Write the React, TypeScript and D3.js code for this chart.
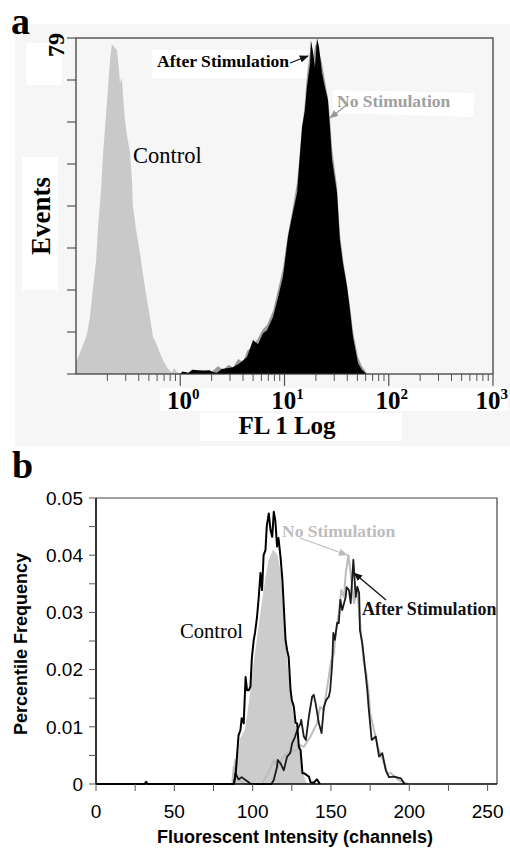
import React, { useEffect, useRef } from 'react';
import * as d3 from 'd3';

// ---- panel a : FL1 log histograms  [FL value, events]
const controlA: [number, number][] = [
  [0.1, 2.8], [0.104, 3.8], [0.117, 6.8], [0.128, 9.6], [0.136, 13.4], [0.146, 20.5], [0.156, 26.8],
  [0.163, 34.6], [0.174, 43.3], [0.182, 52], [0.194, 60.9], [0.203, 67.5], [0.212, 73.8], [0.221, 77.6],
  [0.232, 76.9], [0.247, 76.2], [0.258, 71.5], [0.264, 68.4], [0.276, 69.6], [0.282, 65.6], [0.295, 59.7],
  [0.308, 56.2], [0.33, 52], [0.344, 45.6], [0.352, 39.3], [0.377, 33.9], [0.411, 28.4], [0.44, 23.3],
  [0.48, 17.4], [0.513, 13.2], [0.548, 8.7], [0.598, 6.8], [0.64, 4.9], [0.698, 2.8], [0.746, 1.6],
  [0.798, 0.7], [0.83, 0.3], [0.87, 1.4], [0.92, 0.6], [0.98, 0.2], [1.02, 0]
];

const noStimA: [number, number][] = [
  [1.9, 0], [2.0, 0.5], [2.3, 1.8], [2.6, 1.0], [2.9, 2.2], [3.2, 1.5], [3.6, 3.5], [4.0, 2.8], [4.4, 5.5],
  [5.0, 6.5], [5.6, 8.5], [6.2, 10.5], [6.8, 11.5], [7.8, 15], [8.7, 20], [9.7, 25], [10.8, 33], [11.8, 38],
  [13.2, 45], [14.7, 57], [15.7, 64], [16.4, 70], [17.6, 76], [18.2, 78], [18.7, 74], [19.6, 77], [20.5, 78],
  [21.4, 76], [22.9, 73], [24.4, 69], [26.1, 65], [27.3, 60], [28.6, 53], [31.9, 44], [34.0, 33], [36.4, 27],
  [39.8, 21], [42.5, 16], [45.4, 10], [50.7, 4], [55.3, 1.8], [59.2, 0.8], [62, 0]
];

const afterStimA: [number, number][] = [
  [1.0, 0], [1.05, 0.6], [1.2, 0.3], [1.3, 1.0], [1.5, 0.9], [1.7, 0.8], [1.9, 0.9], [2.1, 0.4], [2.25, 0.3],
  [2.51, 1.2], [2.87, 1.4], [3.21, 1.6], [3.74, 2.6], [4.37, 4], [4.99, 8], [5.57, 7], [6.22, 9.6], [6.79, 10.3],
  [7.76, 13.4], [8.67, 18], [9.68, 22.9], [10.8, 32.2], [11.8, 37], [13.2, 42.6], [14.7, 58], [15.7, 62],
  [16.4, 67.5], [17.6, 73], [17.9, 78.5], [18.7, 76], [19.6, 72], [20.5, 79], [21.4, 77], [22.9, 70.8],
  [24.4, 67.5], [26.1, 64.4], [27.3, 58], [28.6, 50.3], [31.9, 42.6], [34.0, 31.5], [36.4, 26], [39.8, 20.5],
  [42.5, 15], [45.4, 8.7], [50.7, 2.6], [55.3, 1], [59.2, 0.3], [61.8, 0]
];

const decadesA = [0, 1, 2, 3];
const yTicksA = [0, 9.875, 19.75, 29.625, 39.5, 49.375, 59.25, 69.125, 79];
const yMaxA = 79;

// ---- panel b : channels histograms  [channel, percentile frequency]
const controlFillB: [number, number][] = [
  [87.5, 0], [88, 0.0045], [90, 0.004], [92, 0.008], [95, 0.0095], [98, 0.015], [101, 0.022], [104, 0.028],
  [107, 0.034], [110, 0.039], [113, 0.041], [116, 0.04], [118, 0.037], [120, 0.029], [122, 0.022], [124, 0.016],
  [126, 0.012], [128, 0.0095], [130, 0.006], [132, 0.002], [134, 0.0005], [135, 0]
];

const controlLineB: [number, number][] = [
  [0, 0], [31, 0], [32, 0.0004], [33, 0], [88, 0], [89, 0.0012], [90, 0.0048], [91, 0.0085], [92.2, 0.0094],
  [93, 0.0115], [94.3, 0.0106], [95.5, 0.0187], [96.4, 0.0164], [97.5, 0.0164], [98.6, 0.017], [99.5, 0.022],
  [100.7, 0.0252], [101.5, 0.0264], [102.8, 0.0292], [104, 0.033], [105, 0.0369], [106, 0.0339], [107, 0.04],
  [108.2, 0.0409], [109, 0.045], [110.3, 0.0473], [111.4, 0.0444], [112.5, 0.0432], [113.5, 0.0476],
  [114.5, 0.046], [115.6, 0.0415], [116.5, 0.043], [117.8, 0.0397], [119, 0.0357], [119.9, 0.031], [121, 0.0252],
  [122, 0.0234], [123, 0.0222], [124.2, 0.0164], [125, 0.0147], [126.3, 0.0135], [127.4, 0.0107], [128.4, 0.0106],
  [129.5, 0.0065], [130.6, 0.0059], [131.8, 0.0019], [132.7, 0.0019], [135.9, 0.0013], [137, 0.0003],
  [139, 0.0002], [141, 0.0008], [143, 0]
];

const noStimB: [number, number][] = [
  [87, 0], [88, 0.003], [90, 0.0015], [92, 0.0005], [95, 0], [106, 0], [110, 0.002], [113.5, 0.0042], [116, 0.003],
  [119, 0.0045], [122, 0.0054], [125, 0.0058], [128.4, 0.0059], [130.5, 0.0068], [132.7, 0.0065], [135, 0.0075],
  [137, 0.0083], [139, 0.0095], [141.2, 0.0106], [143, 0.0135], [145.5, 0.0129], [146.6, 0.0152], [148.7, 0.0188],
  [150, 0.0215], [151.9, 0.0228], [153, 0.0265], [155, 0.0298], [156.6, 0.0339], [158.3, 0.0327], [159.5, 0.037],
  [161.1, 0.04], [162.6, 0.0368], [164.7, 0.0316], [166.8, 0.0339], [169, 0.0269], [171, 0.0211], [172.5, 0.0194],
  [174.3, 0.0153], [175, 0.0124], [177.5, 0.0094], [180, 0.0065], [180.7, 0.0059], [183.9, 0.0036], [186, 0.0019],
  [188.2, 0.0019], [193, 0.0007], [199, 0]
];

const afterStimB: [number, number][] = [
  [88, 0], [89, 0.0019], [91, 0.0008], [93, 0.0012], [95, 0.0008], [99, 0], [112, 0], [113.5, 0.0007],
  [115.6, 0.003], [116, 0.0042], [117.8, 0.0036], [119.9, 0.0024], [122, 0.0048], [124, 0.0054], [125.2, 0.0071],
  [127, 0.0082], [128.4, 0.0094], [130.6, 0.0106], [131, 0.0112], [132.7, 0.0083], [134, 0.0077], [135.9, 0.0118],
  [138, 0.0153], [139, 0.0156], [140.2, 0.0141], [142.3, 0.0106], [144, 0.0089], [145.5, 0.0135], [147, 0.0147],
  [148.7, 0.0153], [149.5, 0.0164], [150.8, 0.0211], [151.5, 0.0264], [152.5, 0.0252], [154, 0.0282],
  [155, 0.0281], [156, 0.0322], [157.2, 0.0304], [159.4, 0.0327], [160, 0.0344], [161.5, 0.0339], [162.6, 0.0316],
  [164.3, 0.0392], [165.8, 0.0327], [166.8, 0.0345], [168, 0.0334], [168.5, 0.0269], [170, 0.0246], [171, 0.0222],
  [173.2, 0.0164], [174, 0.0135], [175.4, 0.0094], [176, 0.0077], [178.6, 0.0083], [180.7, 0.0048], [182.8, 0.0054],
  [185, 0.0024], [187, 0.0012], [190.3, 0.0013], [194.6, 0.001], [197, 0]
];

const xTicksB = [0, 50, 100, 150, 200, 250];
const xMinorB = [25, 75, 125, 175, 225];
const yTicksB = [0, 0.01, 0.02, 0.03, 0.04, 0.05];
const yMinorB = [0.005, 0.015, 0.025, 0.035, 0.045];

const SERIF = '"Liberation Serif", "Times New Roman", serif';
const SANS = '"Liberation Sans", Arial, sans-serif';

const App = () => {
  const ref = useRef<SVGSVGElement>(null);

  useEffect(() => {
    const svg = d3.select(ref.current);
    svg.selectAll('*').remove();

    const defs = svg.append('defs');
    const marker = (id: string, color: string) => {
      defs.append('marker')
        .attr('id', id)
        .attr('viewBox', '0 0 10 10')
        .attr('refX', 9).attr('refY', 5)
        .attr('markerWidth', 7).attr('markerHeight', 7)
        .attr('orient', 'auto')
        .append('path').attr('d', 'M0,1 L10,5 L0,9 Z').attr('fill', color);
    };
    marker('arrBlack', '#111');
    marker('arrGray', '#9a9a9a');
    marker('arrGrayB', '#bdbdbd');

    // ================= panel a =================
    const a = svg.append('g');
    a.append('rect').attr('x', 15).attr('y', 24).attr('width', 495).attr('height', 422).attr('fill', '#f6f6f6');

    const xA = d3.scaleLog().domain([0.1, 1000]).range([76, 493]);
    const yA = d3.scaleLinear().domain([0, yMaxA]).range([374, 38]);

    const areaA = d3.area<[number, number]>()
      .x(d => xA(d[0]))
      .y0(yA(0))
      .y1(d => yA(d[1]));

    a.append('path').attr('d', areaA(controlA)).attr('fill', '#c9c9c9');
    a.append('path').attr('d', areaA(noStimA)).attr('fill', '#9a9a9a');
    a.append('path').attr('d', areaA(afterStimA)).attr('fill', '#000');

    // frame
    a.append('rect').attr('x', 76).attr('y', 38).attr('width', 493 - 76).attr('height', 374 - 38)
      .attr('fill', 'none').attr('stroke', '#333').attr('stroke-width', 1.2);

    // y ticks
    a.selectAll('.ytA').data(yTicksA).enter().append('line')
      .attr('x1', 67).attr('x2', 76)
      .attr('y1', d => yA(d)).attr('y2', d => yA(d))
      .attr('stroke', '#555').attr('stroke-width', 1.2);

    // x ticks (log)
    const minorA: number[] = [];
    for (let m = 2; m <= 9; m++) minorA.push(m * 0.1);
    decadesA.slice(0, 3).forEach(e => {
      for (let m = 2; m <= 9; m++) minorA.push(m * Math.pow(10, e));
    });
    a.selectAll('.xmA').data(minorA).enter().append('line')
      .attr('x1', d => xA(d)).attr('x2', d => xA(d))
      .attr('y1', 374).attr('y2', 381)
      .attr('stroke', '#555').attr('stroke-width', 1);
    a.selectAll('.xMA').data(decadesA).enter().append('line')
      .attr('x1', d => xA(Math.pow(10, d))).attr('x2', d => xA(Math.pow(10, d)))
      .attr('y1', 374).attr('y2', 386)
      .attr('stroke', '#555').attr('stroke-width', 1.2);

    // white label patches
    const patch = (x: number, y: number, w: number, h: number) =>
      a.append('rect').attr('x', x).attr('y', y).attr('width', w).attr('height', h).attr('fill', '#fff');
    patch(26, 43, 36, 42);
    patch(22, 157, 36, 133);
    patch(152, 50, 155, 28);
    a.append('polygon').attr('points', '333,90 475,93 473,117 333,113').attr('fill', '#fff');
    patch(160, 388, 348, 23);
    patch(200, 413, 202, 28);

    // tick labels
    const last = decadesA[decadesA.length - 1];
    const tl = a.selectAll('.xlA').data(decadesA).enter().append('text')
      .attr('x', d => d === last ? 508 : xA(Math.pow(10, d)) + 3)
      .attr('y', 409)
      .attr('text-anchor', d => d === last ? 'end' : 'middle')
      .attr('font-family', SERIF).attr('font-weight', 'bold').attr('font-size', 25)
      .attr('fill', '#000');
    tl.append('tspan').text('10');
    tl.append('tspan').attr('dy', -10).attr('font-size', 15).text(d => String(d));

    a.append('text').attr('x', 287).attr('y', 434).attr('text-anchor', 'middle')
      .attr('font-family', SERIF).attr('font-weight', 'bold').attr('font-size', 25)
      .text('FL 1 Log');

    a.append('text').attr('transform', 'translate(64,45) rotate(-90)').attr('text-anchor', 'middle')
      .attr('font-family', SERIF).attr('font-weight', 'bold').attr('font-size', 24)
      .text(String(yMaxA));

    a.append('text').attr('transform', 'translate(50,216) rotate(-90)').attr('text-anchor', 'middle')
      .attr('font-family', SERIF).attr('font-weight', 'bold').attr('font-size', 27)
      .text('Events');

    a.append('text').attr('x', 133).attr('y', 163)
      .attr('font-family', SERIF).attr('font-size', 22.5).text('Control');

    a.append('text').attr('x', 157).attr('y', 67)
      .attr('font-family', SERIF).attr('font-weight', 'bold').attr('font-size', 17.6).text('After Stimulation');
    a.append('line').attr('x1', 290).attr('y1', 63).attr('x2', 308).attr('y2', 56)
      .attr('stroke', '#111').attr('stroke-width', 1.3).attr('marker-end', 'url(#arrBlack)');

    a.append('text').attr('x', 337).attr('y', 107)
      .attr('font-family', SERIF).attr('font-weight', 'bold').attr('font-size', 17.5)
      .attr('fill', '#a0a0a0').text('No Stimulation');
    a.append('line').attr('x1', 348).attr('y1', 104).attr('x2', 330).attr('y2', 118)
      .attr('stroke', '#9a9a9a').attr('stroke-width', 1.3).attr('marker-end', 'url(#arrGray)');

    a.append('text').attr('x', 11).attr('y', 34)
      .attr('font-family', SERIF).attr('font-weight', 'bold').attr('font-size', 38).text('a');

    // ================= panel b =================
    const b = svg.append('g');
    const xB = d3.scaleLinear().domain([0, 256]).range([96, 497]);
    const yB = d3.scaleLinear().domain([0, 0.05]).range([784, 498]);

    const areaB = d3.area<[number, number]>().x(d => xB(d[0])).y0(yB(0)).y1(d => yB(d[1]));
    const lineB = d3.line<[number, number]>().x(d => xB(d[0])).y(d => yB(d[1]));

    b.append('path').attr('d', areaB(controlFillB)).attr('fill', '#cccccc');
    b.append('path').attr('d', lineB(noStimB)).attr('fill', 'none')
      .attr('stroke', '#bdbdbd').attr('stroke-width', 2).attr('stroke-linejoin', 'round');
    b.append('path').attr('d', lineB(afterStimB)).attr('fill', 'none')
      .attr('stroke', '#1a1a1a').attr('stroke-width', 1.8).attr('stroke-linejoin', 'round');
    b.append('path').attr('d', lineB(controlLineB)).attr('fill', 'none')
      .attr('stroke', '#000').attr('stroke-width', 2).attr('stroke-linejoin', 'round');

    // frame
    b.append('path').attr('d', `M${xB(0)},${yB(0.05)} H497 V${yB(0)}`)
      .attr('fill', 'none').attr('stroke', '#444').attr('stroke-width', 1.2);
    b.append('line').attr('x1', xB(0)).attr('x2', xB(0)).attr('y1', yB(0.05)).attr('y2', yB(0))
      .attr('stroke', '#000').attr('stroke-width', 1.6);
    b.append('line').attr('x1', xB(0)).attr('x2', 497).attr('y1', yB(0)).attr('y2', yB(0))
      .attr('stroke', '#000').attr('stroke-width', 1.6);

    // ticks
    b.selectAll('.ytB').data([...yTicksB, ...yMinorB]).enter().append('line')
      .attr('x1', 89).attr('x2', 96).attr('y1', d => yB(d)).attr('y2', d => yB(d))
      .attr('stroke', '#555').attr('stroke-width', 1);
    b.selectAll('.xtB').data([...xTicksB, ...xMinorB]).enter().append('line')
      .attr('x1', d => xB(d)).attr('x2', d => xB(d)).attr('y1', 784).attr('y2', 791)
      .attr('stroke', '#555').attr('stroke-width', 1);

    b.selectAll('.ylB').data(yTicksB).enter().append('text')
      .attr('x', 83).attr('y', d => yB(d)).attr('dy', '0.36em')
      .attr('text-anchor', 'end').attr('font-family', SANS).attr('font-size', 19)
      .text(d => d === 0 ? '0' : d.toFixed(2));
    b.selectAll('.xlB').data(xTicksB).enter().append('text')
      .attr('x', d => xB(d)).attr('y', 818)
      .attr('text-anchor', 'middle').attr('font-family', SANS).attr('font-size', 19)
      .text(d => String(d));

    b.append('text').attr('x', 295).attr('y', 843).attr('text-anchor', 'middle')
      .attr('font-family', SANS).attr('font-weight', 'bold').attr('font-size', 18)
      .text('Fluorescent Intensity (channels)');
    b.append('text').attr('transform', 'translate(27,644) rotate(-90)').attr('text-anchor', 'middle')
      .attr('font-family', SANS).attr('font-weight', 'bold').attr('font-size', 18)
      .text('Percentile Frequency');

    b.append('text').attr('x', 180).attr('y', 638)
      .attr('font-family', SERIF).attr('font-size', 20.6).text('Control');

    b.append('text').attr('x', 282).attr('y', 537)
      .attr('font-family', SERIF).attr('font-weight', 'bold').attr('font-size', 17.5)
      .attr('fill', '#bdbdbd').text('No Stimulation');
    b.append('line').attr('x1', 300).attr('y1', 538).attr('x2', 347).attr('y2', 555)
      .attr('stroke', '#bdbdbd').attr('stroke-width', 1.3).attr('marker-end', 'url(#arrGrayB)');

    b.append('text').attr('x', 362).attr('y', 615)
      .attr('font-family', SERIF).attr('font-weight', 'bold').attr('font-size', 17.9)
      .attr('fill', '#111').text('After Stimulation');
    b.append('line').attr('x1', 386).attr('y1', 600).attr('x2', 354).attr('y2', 573)
      .attr('stroke', '#111').attr('stroke-width', 1.3).attr('marker-end', 'url(#arrBlack)');

    b.append('text').attr('x', 12).attr('y', 478)
      .attr('font-family', SERIF).attr('font-weight', 'bold').attr('font-size', 38).text('b');
  }, []);

  return (
    <svg ref={ref} width={510} height={852}
      style={{ position: 'absolute', left: 0, top: 0, background: '#fff' }} />
  );
};

export default App;
